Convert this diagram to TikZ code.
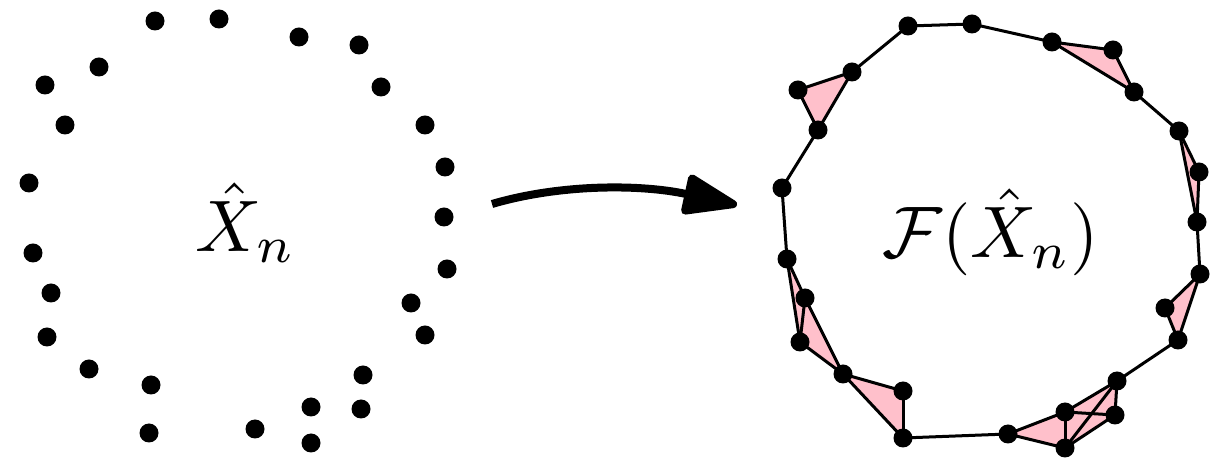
\documentclass[tikz,border=0pt]{standalone}
\usetikzlibrary{arrows.meta,backgrounds}
\definecolor{simplex}{RGB}{255,192,203}
\begin{document}
\begin{tikzpicture}[x=0.5pt,y=-0.5pt,
  dot/.style={circle,fill=black,inner sep=0pt,minimum size=9.5pt},
  edge/.style={draw=black,line width=1.5pt},
  face/.style={fill=simplex},
  lbl/.style={anchor=base,inner sep=0pt,scale=3.65}]
\useasboundingbox (0,0) rectangle (1226,458);

% sample points
\foreach \n/\x/\y in {1/155/21, 2/219/19, 3/299/37, 4/359/45, 5/99/67, 6/45/85,
  7/381/87, 8/65/125, 9/425/125, 10/445/167, 11/29/183, 12/444/217, 13/33/253,
  14/447/269, 15/51/293, 16/411/303, 17/47/337, 18/425/335, 19/89/369,
  20/363/375, 21/151/385, 22/311/407, 23/361/409, 24/149/433, 25/255/429,
  26/311/443}
  \node[dot] (p\n) at (\x,\y) {};
\node[lbl] (xlabel) at (246,252) {$\hat{X}_n$};

% the map
\coordinate (arrS) at (492,204);
\coordinate (arrE) at (737,205);
\draw[line width=4pt,-{Triangle[length=31pt,width=21pt,round]}]
  (arrS) .. controls (560,184) and (640,184) .. (arrE);

% complex vertices
\foreach \n/\x/\y in {A/782/188, B/798/90, C/818/130, D/852/72, E/908/26,
  F/972/24, G/1052/42, H/1113/50, I/1134/92, J/1179/131, K/1199/172,
  L/1197/222, Z/1200/274, Y/1165/308, X/1178/340, W/1117/381, V/1115/415,
  T/1065/412, U/1065/448, S/1008/434, R/903/438, Q/903/391, P/843/374,
  O/800/342, N/805/298, M/787/259}
  \node[dot] (\n) at (\x,\y) {};
\node[lbl] (flabel) at (991,258) {$\mathcal{F}(\hat{X}_n)$};

\begin{scope}[on background layer]
  % filled triangles
  \foreach \a/\b/\c in {B/C/D, G/H/I, J/K/L, Z/Y/X, T/U/W, U/V/W, T/V/W,
    S/T/U, P/Q/R, N/O/P, M/N/O}
    \fill[face] (\a.center) -- (\b.center) -- (\c.center) -- cycle;
  % edges
  \foreach \a/\b in {A/C, C/B, B/D, C/D, D/E, E/F, F/G, G/H, H/I, G/I,
    I/J, J/K, K/L, J/L, L/Z, Z/Y, Y/X, Z/X, X/W, W/V, W/T, W/U, T/V, U/V,
    T/U, S/T, S/U, S/R, R/Q, Q/P, P/R, P/N, P/O, N/O, M/N, M/O, M/A}
    \draw[edge] (\a.center) -- (\b.center);
\end{scope}
\end{tikzpicture}
\end{document}
